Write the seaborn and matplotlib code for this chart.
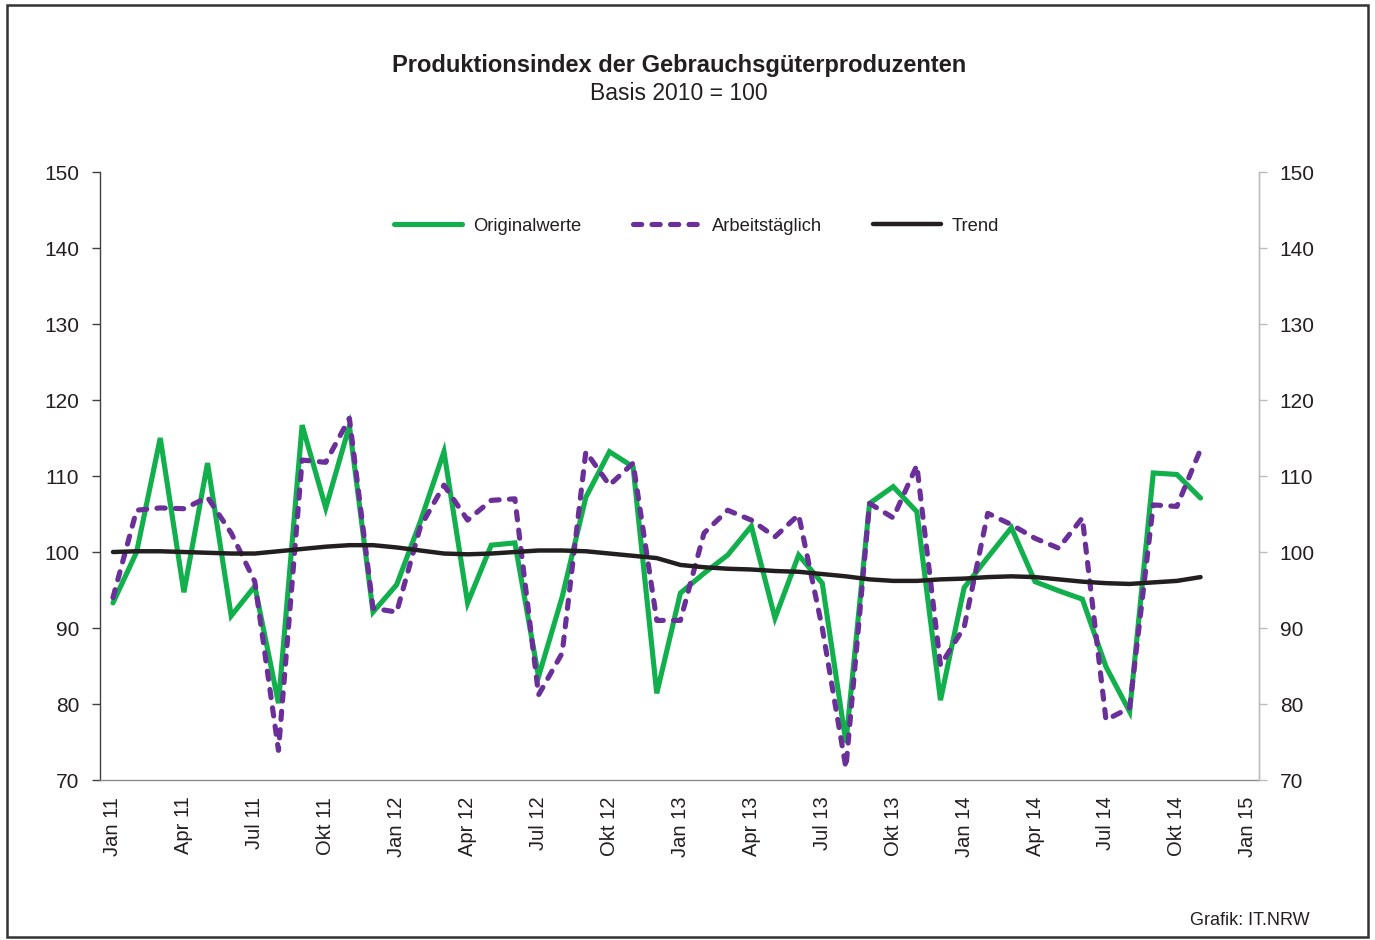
import pandas as pd
import matplotlib.pyplot as plt
import matplotlib.patches as patches
import numpy as np
import seaborn as sns
sns.set_theme(context="paper", style="white")
plt.rcParams['font.family'] = ['Liberation Sans', 'DejaVu Sans']

# Jan 2011 .. Nov 2014, monthly
months = list(range(47))

original = [93.3, 100.0, 115.0, 94.7, 111.7, 91.6, 95.5, 80.1, 116.7, 105.8, 116.6, 92.1,
            95.7, 104.0, 113.2, 93.3, 100.9, 101.2, 83.6, 94.1, 107.2, 113.2, 111.2, 81.4,
            94.6, 97.2, 99.6, 103.4, 91.3, 99.6, 95.9, 74.9, 106.4, 108.6, 105.3, 80.5,
            95.3, 99.3, 103.2, 96.1, 94.9, 93.8, 84.9, 79.0, 110.4, 110.2, 107.1]

arbeitstaeglich = [94.0, 105.5, 105.8, 105.7, 107.2, 102.5, 96.1, 73.9, 112.1, 111.8, 117.6, 92.6,
                   92.1, 103.3, 108.8, 104.2, 106.8, 107.0, 81.2, 86.7, 113.2, 108.8, 111.7, 91.0,
                   91.0, 102.5, 105.5, 104.2, 102.0, 104.9, 90.0, 71.6, 106.4, 104.5, 111.4, 85.1,
                   90.1, 105.1, 103.6, 101.8, 100.5, 104.5, 77.9, 79.5, 106.2, 106.0, 113.5]

trend = [100.0, 100.1, 100.1, 100.0, 99.9, 99.8, 99.8, 100.1, 100.4, 100.7, 100.9, 100.9,
         100.6, 100.2, 99.8, 99.7, 99.8, 100.0, 100.2, 100.2, 100.1, 99.8, 99.5, 99.2,
         98.3, 98.0, 97.8, 97.7, 97.5, 97.4, 97.1, 96.8, 96.4, 96.2, 96.2, 96.4,
         96.5, 96.7, 96.8, 96.7, 96.4, 96.1, 95.9, 95.8, 96.0, 96.2, 96.7]

tick_pos = list(range(0, 49, 3))
tick_labels = ["Jan 11", "Apr 11", "Jul 11", "Okt 11",
               "Jan 12", "Apr 12", "Jul 12", "Okt 12",
               "Jan 13", "Apr 13", "Jul 13", "Okt 13",
               "Jan 14", "Apr 14", "Jul 14", "Okt 14", "Jan 15"]

text_color = "#231f20"

data = pd.DataFrame({"monat": months, "Originalwerte": original,
                     "Arbeitstäglich": arbeitstaeglich, "Trend": trend})

fig = plt.figure(figsize=(13.75, 9.4), dpi=100)
ax = fig.add_axes([0.0727, 0.1702, 0.8429, 0.6468])

sns.lineplot(data=data, x="monat", y="Originalwerte", ax=ax, color="#12b04c",
             linewidth=3.7, label="Originalwerte", solid_joinstyle="miter")
sns.lineplot(data=data, x="monat", y="Arbeitstäglich", ax=ax, color="#6b2f99",
             linewidth=3.7, label="Arbeitstäglich", linestyle=(0, (1.6, 2.0)),
             dash_capstyle="round")
sns.lineplot(data=data, x="monat", y="Trend", ax=ax, color=text_color,
             linewidth=3.2, label="Trend", solid_capstyle="round")

ax.set_xlim(-0.55, 48.47)
ax.set_ylim(70, 150)
ax.set_yticks(range(70, 151, 10))
ax.set_xticks(tick_pos)
ax.set_xticklabels(tick_labels, rotation=90, fontsize=14.5, color=text_color)
ax.set_xlabel("")
ax.set_ylabel("")
ax.tick_params(axis="x", length=0, pad=12)
ax.tick_params(axis="y", length=6, width=1, color="#404040", labelsize=15,
               labelcolor=text_color, pad=9)

ax.spines["top"].set_visible(False)
ax.spines["right"].set_color("#bdbdbd")
ax.spines["left"].set_color("#404040")
ax.spines["bottom"].set_color("#8c8c8c")
for s in ["left", "bottom", "right"]:
    ax.spines[s].set_linewidth(1)

ax2 = ax.twinx()
ax2.set_ylim(70, 150)
ax2.set_yticks(range(70, 151, 10))
ax2.tick_params(axis="y", length=6, width=1, color="#bdbdbd", labelsize=15,
                labelcolor=text_color, pad=9)
for s in ["top", "left", "bottom"]:
    ax2.spines[s].set_visible(False)
ax2.spines["right"].set_color("#bdbdbd")

leg = ax.legend(loc="center", bbox_to_anchor=(0.515, 0.911), ncol=3, frameon=False,
                fontsize=13.2, handlelength=3.7, columnspacing=2.8, handletextpad=0.6)
for t in leg.get_texts():
    t.set_color(text_color)

fig.text(0.494, 0.930, "Produktionsindex der Gebrauchsgüterproduzenten", ha="center",
         va="center", fontsize=17, fontweight="bold", color=text_color)
fig.text(0.494, 0.901, "Basis 2010 = 100", ha="center", va="center",
         fontsize=16.5, color=text_color)
fig.text(0.9527, 0.021, "Grafik: IT.NRW", ha="right", va="center",
         fontsize=13, color=text_color)

fig.patches.append(patches.Rectangle((0.005, 0.003), 0.990, 0.992, transform=fig.transFigure,
                                     fill=False, edgecolor="#333333", linewidth=1.8))

plt.savefig("out.png", dpi=100)
